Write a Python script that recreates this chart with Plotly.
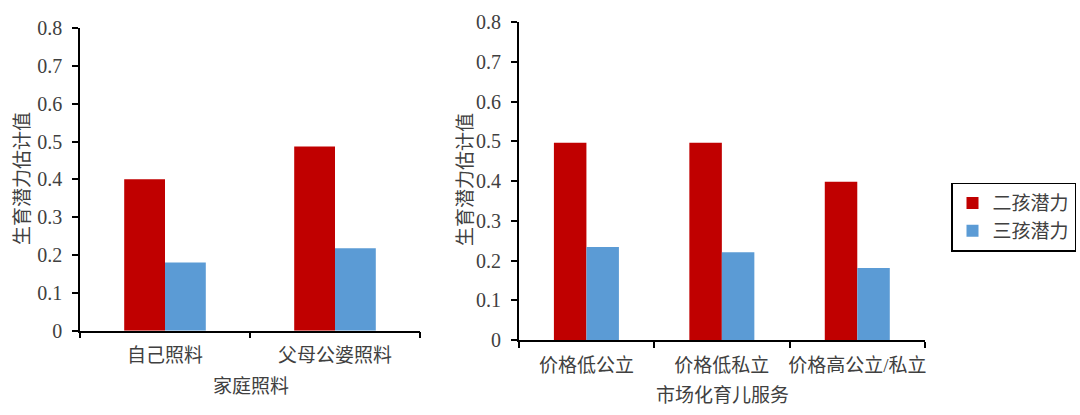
import plotly.graph_objects as go

# ---- data ----
family_categories = ["自己照料", "父母公婆照料"]
family_two_child = [0.40, 0.487]
family_three_child = [0.18, 0.218]

market_categories = ["价格低公立", "价格低私立", "价格高公立/私立"]
market_two_child = [0.496, 0.496, 0.398]
market_three_child = [0.234, 0.221, 0.181]

series_names = ["二孩潜力", "三孩潜力"]
y_tick_vals = [0, 0.1, 0.2, 0.3, 0.4, 0.5, 0.6, 0.7, 0.8]
y_tick_text = ["0", "0.1", "0.2", "0.3", "0.4", "0.5", "0.6", "0.7", "0.8"]
y_title = "生育潜力估计值"
x_title_left = "家庭照料"
x_title_right = "市场化育儿服务"

RED = "#C00000"
BLUE = "#5B9BD5"
TXT = "#404040"
FONT = "'Liberation Serif', 'Times New Roman', 'Noto Sans CJK SC', serif"

fig = go.Figure()

fig.add_trace(go.Bar(x=family_categories, y=family_two_child, name=series_names[0],
                     marker=dict(color=RED, line=dict(width=0)), xaxis="x", yaxis="y",
                     legendgroup="a", showlegend=True))
fig.add_trace(go.Bar(x=family_categories, y=family_three_child, name=series_names[1],
                     marker=dict(color=BLUE, line=dict(width=0)), xaxis="x", yaxis="y",
                     legendgroup="b", showlegend=True))
fig.add_trace(go.Bar(x=market_categories, y=market_two_child, name=series_names[0],
                     marker=dict(color=RED, line=dict(width=0)), xaxis="x2", yaxis="y2",
                     legendgroup="a", showlegend=False))
fig.add_trace(go.Bar(x=market_categories, y=market_three_child, name=series_names[1],
                     marker=dict(color=BLUE, line=dict(width=0)), xaxis="x2", yaxis="y2",
                     legendgroup="b", showlegend=False))

xcommon = dict(type="category", showline=True, linecolor="black", linewidth=1.5,
               ticks="outside", tickson="boundaries", ticklen=6, tickwidth=1.5,
               tickcolor="black", showgrid=False, zeroline=False, tickangle=0,
               automargin=False, ticklabelstandoff=7,
               tickfont=dict(family=FONT, size=19, color=TXT), fixedrange=True)
ycommon = dict(range=[0, 0.8], tickvals=y_tick_vals, ticktext=y_tick_text,
               showline=True, linecolor="black", linewidth=1.5, ticks="outside",
               ticklen=6, tickwidth=1.5, tickcolor="black", showgrid=False,
               zeroline=False, automargin=False, ticklabelstandoff=6,
               tickfont=dict(family=FONT, size=20, color=TXT), fixedrange=True)

W, H = 1080, 415
fig.update_layout(
    width=W, height=H,
    margin=dict(l=0, r=0, t=0, b=0, autoexpand=False),
    paper_bgcolor="white", plot_bgcolor="white",
    barmode="group", bargap=0.52, bargroupgap=0,
    font=dict(family=FONT, size=19, color=TXT),
    xaxis=dict(domain=[80 / W, 420 / W], anchor="y", **xcommon),
    yaxis=dict(domain=[1 - 330.7 / H, 1 - 28 / H], anchor="x", **ycommon),
    xaxis2=dict(domain=[518.7 / W, 925 / W], anchor="y2", **xcommon),
    yaxis2=dict(domain=[1 - 340 / H, 1 - 22 / H], anchor="x2", **ycommon),
    legend=dict(x=1076 / W, y=1 - 182.7 / H, xanchor="right", yanchor="top",
                bordercolor="black", borderwidth=1.5, bgcolor="white",
                font=dict(family=FONT, size=19, color=TXT),
                itemwidth=30, tracegroupgap=2, traceorder="normal"),
    annotations=[
        dict(text=y_title, textangle=-90, x=22 / W, y=1 - 179 / H, xref="paper", yref="paper",
             xanchor="center", yanchor="middle",
             showarrow=False, font=dict(family=FONT, size=19, color=TXT)),
        dict(text=y_title, textangle=-90, x=465 / W, y=1 - 180 / H, xref="paper", yref="paper",
             xanchor="center", yanchor="middle",
             showarrow=False, font=dict(family=FONT, size=19, color=TXT)),
        dict(text=x_title_left, x=251 / W, y=1 - 386 / H, xref="paper", yref="paper",
             xanchor="center", yanchor="middle",
             showarrow=False, font=dict(family=FONT, size=19, color=TXT)),
        dict(text=x_title_right, x=722 / W, y=1 - 395 / H, xref="paper", yref="paper",
             xanchor="center", yanchor="middle",
             showarrow=False, font=dict(family=FONT, size=19, color=TXT)),
    ],
)

fig.write_html("out.html")
